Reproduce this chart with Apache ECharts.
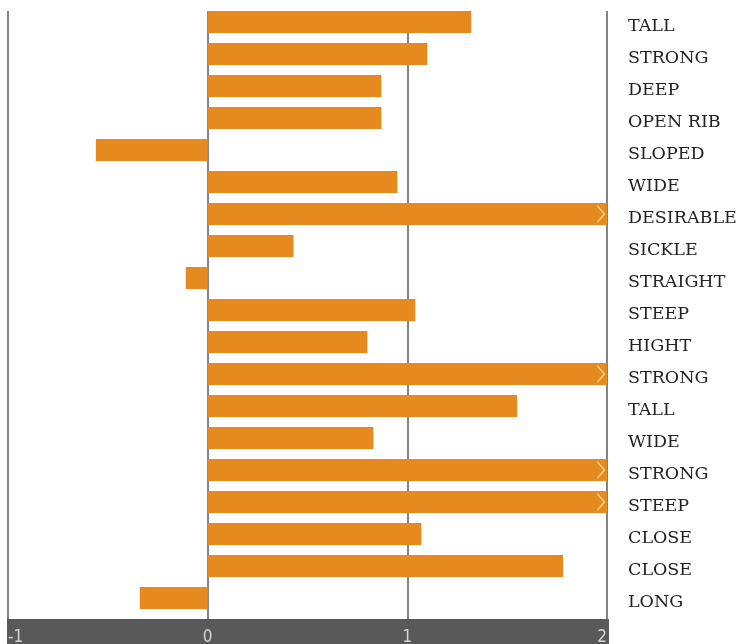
<!DOCTYPE html>
<html>
<head>
<meta charset="utf-8">
<style>
  html, body { margin: 0; padding: 0; background: #fff; }
  #chart { width: 740px; height: 644px; }
</style>
<script src="https://cdn.jsdelivr.net/npm/echarts@6/dist/echarts.min.js"></script>
</head>
<body>
<div id="chart"></div>
<script>
// categories, top to bottom
const traits = ['TALL', 'STRONG', 'DEEP', 'OPEN RIB', 'SLOPED', 'WIDE', 'DESIRABLE', 'SICKLE',
  'STRAIGHT', 'STEEP', 'HIGHT', 'STRONG', 'TALL', 'WIDE', 'STRONG', 'STEEP', 'CLOSE', 'CLOSE', 'LONG']
// bar values (the ones past 2 run off the axis)
const scores = [1.32, 1.1, 0.87, 0.87, -0.56, 0.95, 2.3, 0.43,
  -0.11, 1.04, 0.8, 2.3, 1.55, 0.83, 2.3, 2.3, 1.07, 1.78, -0.34]
const xTicks = [-1, 0, 1, 2]
const xMin = -1
const xMax = 2

// rows with values past the max get a ">" marker
const overflow = []
scores.forEach((v, i) => { if (v > xMax) overflow.push([xMax, i]) })

const chart = echarts.init(document.getElementById('chart'))
chart.setOption({
  animation: false,
  grid: { left: 8, right: 133, top: 11, bottom: 25, outerBoundsMode: 'none' },
  graphic: [
    // dark band behind the tick labels
    { type: 'rect', left: 7, top: 619, shape: { width: 602, height: 25 }, style: { fill: '#595959' }, z: -1 }
  ],
  xAxis: {
    type: 'value',
    min: xMin,
    max: xMax,
    interval: 1,
    axisLine: { show: false },
    axisTick: { show: false },
    axisLabel: {
      color: '#d4d4d4',
      fontFamily: 'DejaVu Sans Condensed, DejaVu Sans',
      fontSize: 17,
      margin: 10,
      alignMinLabel: 'left',
      alignMaxLabel: 'right',
      formatter: v => xTicks.includes(v) ? String(v) : ''
    },
    splitLine: { show: true, lineStyle: { color: '#5a5a5a', width: 1.5 } }
  },
  yAxis: {
    type: 'category',
    data: traits,
    inverse: true,
    position: 'right',
    axisLine: { show: false },
    axisTick: { show: false },
    splitLine: { show: false },
    axisLabel: {
      color: '#222',
      fontFamily: 'DejaVu Serif',
      fontSize: 17.5,
      margin: 21,
      align: 'left',
      lineHeight: 1,
      verticalAlign: 'bottom'
    }
  },
  series: [
    {
      type: 'bar',
      data: scores,
      barWidth: 22,
      barGap: '-54.5%',
      clip: true,
      itemStyle: { color: '#e68a20' }
    },
    {
      // empty spacer so the bars sit at the top of each row
      type: 'bar',
      data: scores.map(() => null),
      barWidth: 22,
      itemStyle: { color: 'transparent' }
    },
    {
      type: 'scatter',
      data: overflow,
      symbol: 'path://M0,0 L1,1 L0,2',
      symbolSize: [7, 16],
      symbolOffset: [-6, -5],
      itemStyle: { color: 'none', borderColor: '#f8dcb8', borderWidth: 1.3 },
      z: 5
    }
  ]
})
</script>
</body>
</html>
